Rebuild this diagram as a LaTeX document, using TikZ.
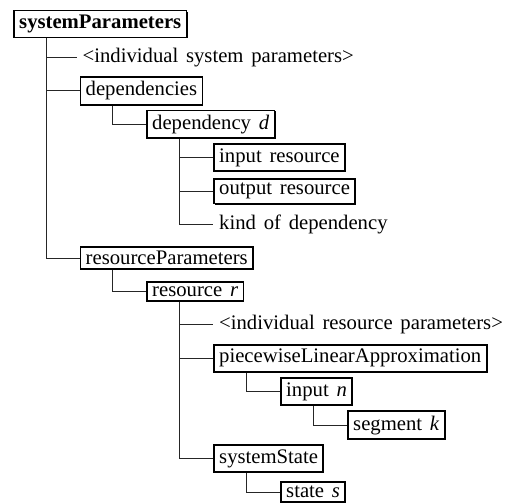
\documentclass[tikz,border=0pt]{standalone}
\usepackage{fontspec}
\setmainfont{Liberation Serif}[WordSpace=1.5]
\usetikzlibrary{shadows}
\begin{document}
\begin{tikzpicture}[x=1pt,y=-1pt,
  every node/.style={font=\fontsize{20.7}{24}\selectfont, anchor=west},
  tbox/.style={draw, line width=1.8pt, fill=white, inner xsep=5.3pt, inner ysep=4.4pt,
    drop shadow={shadow xshift=1pt, shadow yshift=-1pt, fill=black, opacity=1}},
  tlabel/.style={inner xsep=6pt, inner ysep=3pt},
  link/.style={line width=0.9pt, black!85}]
\useasboundingbox (0,0) rectangle (515,504);
% level offsets (left edges) and row pitch
\def\La{13}\def\Lb{79.5}\def\Lc{146}\def\Ld{213}\def\Le{280}\def\Lf{347}
\def\rowy#1{24+33.43*#1}
% nodes
\node[tbox] (sys) at (\La,{\rowy{0}}) {\textbf{systemParameters}};
\node[tlabel] (isp) at (\Lb-3,{\rowy{1}}) {<individual system parameters>};
\node[tbox] (deps) at (\Lb,{\rowy{2}}) {dependencies};
\node[tbox] (dep) at (\Lc,{\rowy{3}}) {dependency \textit{d}};
\node[tbox] (inres) at (\Ld,{\rowy{4}}) {input resource};
\node[tbox] (outres) at (\Ld,{\rowy{5}}) {output resource};
\node[tlabel] (kind) at (\Ld,{\rowy{6}}) {kind of dependency};
\node[tbox] (rpar) at (\Lb,{\rowy{7}}) {resourceParameters};
\node[tbox] (res) at (\Lc,{\rowy{8}}) {resource \textit{r}};
\node[tlabel] (irp) at (\Ld,{\rowy{9}}) {<individual resource parameters>};
\node[tbox] (pla) at (\Ld,{\rowy{10}}) {piecewiseLinearApproximation};
\node[tbox] (inp) at (\Le,{\rowy{11}}) {input \textit{n}};
\node[tbox] (seg) at (\Lf,{\rowy{12}}) {segment \textit{k}};
\node[tbox] (sst) at (\Ld,{\rowy{13}}) {systemState};
\node[tbox] (st) at (\Le,{\rowy{14}}) {state \textit{s}};
% spines below each parent
\coordinate (s-sys) at ([xshift=33pt]sys.south west);
\coordinate (s-deps) at ([xshift=33pt]deps.south west);
\coordinate (s-dep) at ([xshift=33pt]dep.south west);
\coordinate (s-rpar) at ([xshift=33pt]rpar.south west);
\coordinate (s-res) at ([xshift=33pt]res.south west);
\coordinate (s-pla) at ([xshift=33pt]pla.south west);
\coordinate (s-inp) at ([xshift=33pt]inp.south west);
\coordinate (s-sst) at ([xshift=33pt]sst.south west);
% connectors
\foreach \p/\c in {sys/isp, sys/deps, sys/rpar, deps/dep, dep/inres, dep/outres, dep/kind,
  rpar/res, res/irp, res/pla, res/sst, pla/inp, inp/seg, sst/st}
  \draw[link] (s-\p) |- (\c.west);
\end{tikzpicture}
\end{document}
